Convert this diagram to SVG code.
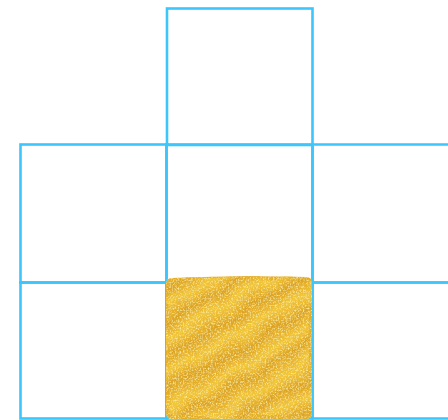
<svg xmlns="http://www.w3.org/2000/svg" width="448" height="420" viewBox="0 0 448 420">
  <style>
    .cell { fill: none; stroke: #3cc6fc; stroke-width: 2.6; }
  </style>
  <defs>
    <linearGradient id="stripes" gradientUnits="userSpaceOnUse" x1="166" y1="277" x2="181" y2="303" spreadMethod="repeat">
      <stop offset="0" stop-color="#ebb92f"/>
      <stop offset="0.3" stop-color="#dca323"/>
      <stop offset="0.55" stop-color="#e8b32b"/>
      <stop offset="0.8" stop-color="#f2c738"/>
      <stop offset="1" stop-color="#ebb92f"/>
    </linearGradient>
    <filter id="grain" x="0" y="0" width="100%" height="100%">
      <feTurbulence type="fractalNoise" baseFrequency="0.03" numOctaves="2" seed="2" result="warp"/>
      <feDisplacementMap in="SourceGraphic" in2="warp" scale="18" xChannelSelector="R" yChannelSelector="G" result="wavy"/>
      <feComposite in="wavy" in2="SourceGraphic" operator="in" result="base"/>
      <feFlood flood-color="#e4ad28" result="fl"/>
      <feComposite in="fl" in2="SourceGraphic" operator="in" result="under"/>
      <feTurbulence type="fractalNoise" baseFrequency="0.6" numOctaves="2" seed="4" result="n"/>
      <feColorMatrix in="n" type="matrix" values="0 0 0 0 1  0 0 0 0 0.87  0 0 0 0 0.33  2.4 0 0 0 -1.15" result="light"/>
      <feComposite in="light" in2="SourceGraphic" operator="in" result="l"/>
      <feTurbulence type="fractalNoise" baseFrequency="0.5" numOctaves="2" seed="9" result="n2"/>
      <feColorMatrix in="n2" type="matrix" values="0 0 0 0 0.8  0 0 0 0 0.55  0 0 0 0 0.08  2.4 0 0 0 -1.2" result="dark"/>
      <feComposite in="dark" in2="SourceGraphic" operator="in" result="d"/>
      <feMerge>
        <feMergeNode in="under"/>
        <feMergeNode in="base"/>
        <feMergeNode in="d"/>
        <feMergeNode in="l"/>
      </feMerge>
    </filter>
  </defs>
  <g id="grid">
    <g id="cell-top"><rect class="cell" x="167" y="8.5" width="145.5" height="136.5"/></g>
    <g id="cell-mid-left"><rect class="cell" x="20.5" y="144.5" width="146" height="138"/></g>
    <g id="cell-mid-center"><rect class="cell" x="166.5" y="144.5" width="146" height="138"/></g>
    <g id="cell-mid-right"><path class="cell" d="M449 144.5 H312.5 V282.5 H449"/></g>
    <g id="cell-bot-left"><rect class="cell" x="20.5" y="282.5" width="146" height="136"/></g>
    <g id="cell-bot-center"><rect class="cell" x="166.5" y="282.5" width="146" height="136"/></g>
    <g id="cell-bot-right"><path class="cell" d="M449 282.5 H312.5 V418.5 H449"/></g>
  </g>
  <g id="gold-tile">
    <path d="M172 278 Q240 275 306 277 Q312 277 312 283 L312 413 Q312 419 306 419 L172 419 Q166 419 166 413 L166 284 Q166 278 172 278 Z" fill="url(#stripes)" filter="url(#grain)"/>
  </g>
</svg>
